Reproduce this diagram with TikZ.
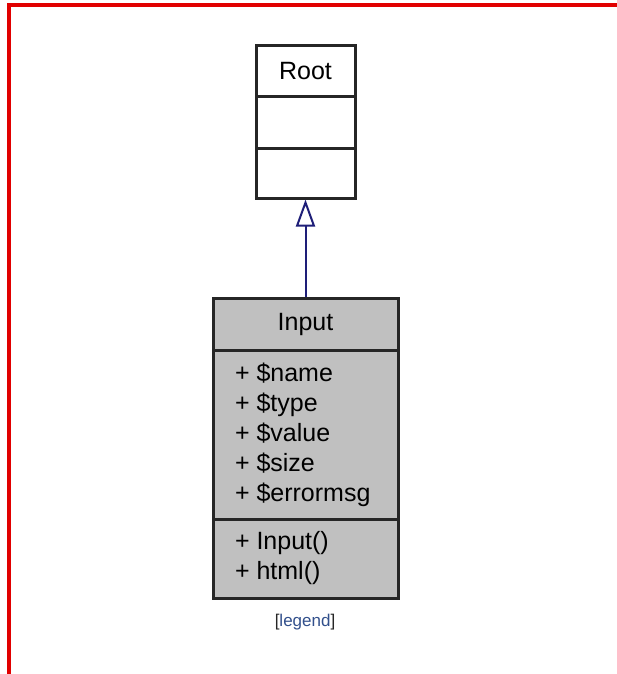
\documentclass[tikz,border=0pt]{standalone}
\usepackage{fontspec}
\setmainfont{Liberation Sans}
\usetikzlibrary{arrows.meta,positioning}
\definecolor{classgray}{RGB}{192,192,192}
\definecolor{edgenavy}{RGB}{30,30,120}
\definecolor{legendblue}{RGB}{50,80,140}
\definecolor{framered}{RGB}{225,0,0}

\begin{document}
\begin{tikzpicture}[x=1pt, y=-1pt,
    part/.style={draw=black!85, line width=3pt, inner sep=0pt},
    rootpart/.style={part, minimum width=99pt},
    inpart/.style={part, fill=classgray, minimum width=185pt},
    umltext/.style={font=\fontsize{25}{30}\selectfont}]
  \useasboundingbox[fill=white] (0,0) rectangle (617,674);
  % Frame
  \draw[framered, line width=4pt] (9,674) -- (9,5) -- (617,5);
  % Root class
  \node[rootpart, minimum height=51pt, umltext] (roottitle) at (305.5,71.5) {Root};
  \node[rootpart, minimum height=51pt] (rootattr) at (305.5,122.5) {};
  \node[rootpart, minimum height=50pt] (rootops) at (305.5,173) {};
  % Input class
  \node[inpart, minimum height=52pt, umltext] (intitle) at (305.5,324) {Input};
  \node[inpart, minimum height=169pt, umltext] (inattr) at (305.5,434.5)
    {\begin{minipage}{141pt}\raggedright
     + \$name\\ + \$type\\ + \$value\\ + \$size\\ + \$errormsg\end{minipage}};
  \node[inpart, minimum height=79pt, umltext] (inops) at (305.5,558.5)
    {\begin{minipage}{141pt}\raggedright
     + Input()\\ + html()\end{minipage}};
  % Inheritance
  \draw[edgenavy, line width=2pt,
        -{Triangle[open, length=27pt, width=19pt, fill=white]}]
    (intitle.north) -- (rootops.south);
  % Legend
  \node[font=\fontsize{17}{20}\selectfont, text=legendblue] (legend) at (305,622)
    {{\color{black!85}[}legend{\color{black!85}]}};
\end{tikzpicture}
\end{document}
